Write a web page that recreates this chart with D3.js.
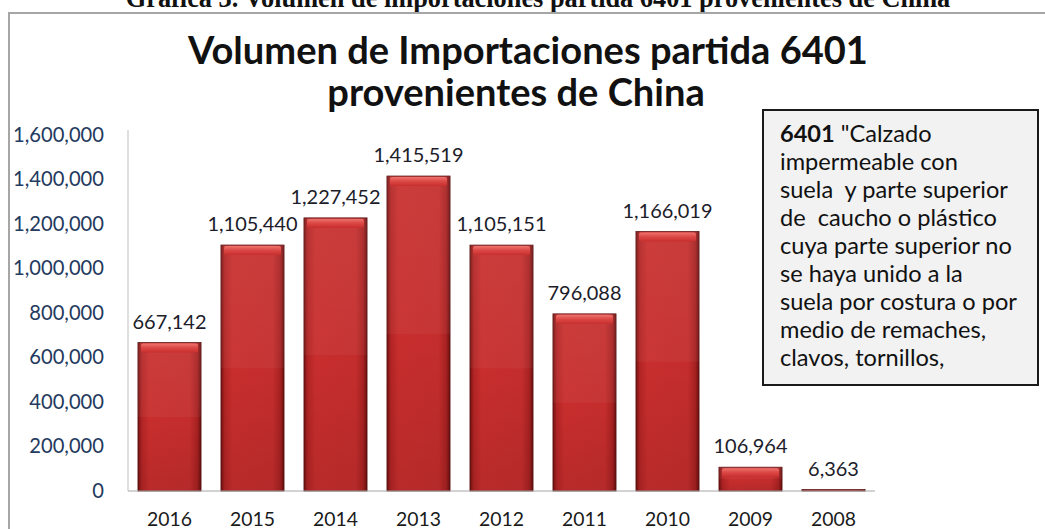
<!DOCTYPE html>
<html>
<head>
<meta charset="utf-8">
<script src="https://cdn.jsdelivr.net/npm/d3@7"></script>
<style>
  html, body { margin: 0; padding: 0; background: #fff; }
  svg { display: block; }
</style>
</head>
<body>
<svg id="chart" width="1045" height="529"></svg>
<script>
// Import volume of heading 6401 from China, by year
const years = ["2016", "2015", "2014", "2013", "2012", "2011", "2010", "2009", "2008"];
const volumes = [667142, 1105440, 1227452, 1415519, 1105151, 796088, 1166019, 106964, 6363];
const yTicks = [0, 200000, 400000, 600000, 800000, 1000000, 1200000, 1400000, 1600000];

const caption = "Gráfica 3. Volumen de importaciones partida 6401 provenientes de China";
const titleLines = ["Volumen de Importaciones partida 6401", "provenientes de China"];
const noteLines = [
  ["6401", " \"Calzado"],
  ["", "impermeable con"],
  ["", "suela  y parte superior"],
  ["", "de  caucho o plástico"],
  ["", "cuya parte superior no"],
  ["", "se haya unido a la"],
  ["", "suela por costura o por"],
  ["", "medio de remaches,"],
  ["", "clavos, tornillos,"]
];

const svg = d3.select("#chart");
const sans = "Lato, 'Open Sans', sans-serif";
const fmt = d3.format(",");

// scale a text element's font size so it spans the wanted width
function fitWidth(sel, width) {
  const node = sel.node();
  const fs = parseFloat(sel.attr("font-size"));
  const w = node.getComputedTextLength();
  sel.attr("font-size", (fs * width / w).toFixed(2));
  return fs * width / w;
}

// page caption, partly cut by the top edge
const cap = svg.append("text")
  .attr("x", 538).attr("y", 7)
  .attr("text-anchor", "middle")
  .attr("font-family", "'Liberation Serif', 'Times New Roman', serif")
  .attr("font-weight", "bold")
  .attr("font-size", 20)
  .attr("fill", "#111")
  .text(caption);
fitWidth(cap, 825);

// outer frame of the chart object
svg.append("path")
  .attr("d", "M9,535 V13 H1050")
  .attr("fill", "none")
  .attr("stroke", "#a6a6a6")
  .attr("stroke-width", 2);

// chart title
const t1 = svg.append("text")
  .attr("x", 528).attr("y", 64)
  .attr("text-anchor", "middle")
  .attr("font-family", sans).attr("font-weight", "bold")
  .attr("font-size", 30).attr("fill", "#111")
  .text(titleLines[0]);
const tfs = fitWidth(t1, 680);
svg.append("text")
  .attr("x", 516).attr("y", 106)
  .attr("text-anchor", "middle")
  .attr("font-family", sans).attr("font-weight", "bold")
  .attr("font-size", tfs).attr("fill", "#111")
  .text(titleLines[1]);

// plot area
const x = d3.scaleBand()
  .domain(years)
  .range([128, 875])
  .paddingInner(0.24)
  .paddingOuter(0.12);

const y = d3.scaleLinear()
  .domain([0, 1600000])
  .range([491, 135]);

// gradients for the bevelled bars
const defs = svg.append("defs");
const hGrad = defs.append("linearGradient").attr("id", "barH")
  .attr("x1", "0").attr("x2", "1").attr("y1", "0").attr("y2", "0");
[["0%", "#741212"], ["6%", "#b22424"], ["18%", "#c72e2d"], ["82%", "#c42d2d"], ["94%", "#a82121"], ["100%", "#6a1010"]]
  .forEach(([o, c]) => hGrad.append("stop").attr("offset", o).attr("stop-color", c));
const vGrad = defs.append("linearGradient").attr("id", "barV")
  .attr("x1", "0").attr("x2", "0").attr("y1", "0").attr("y2", "1");
[["0%", "#ffffff", 0.07], ["50%", "#ffffff", 0.04], ["50.5%", "#000000", 0.0], ["100%", "#000000", 0.08]]
  .forEach(([o, c, a]) => vGrad.append("stop").attr("offset", o).attr("stop-color", c).attr("stop-opacity", a));
const capGrad = defs.append("linearGradient").attr("id", "barCap")
  .attr("x1", "0").attr("x2", "0").attr("y1", "0").attr("y2", "1");
[["0%", "#ee736e"], ["45%", "#dc4946"], ["100%", "#c72e2d"]]
  .forEach(([o, c]) => capGrad.append("stop").attr("offset", o).attr("stop-color", c));

// y axis
const yAxis = svg.append("g")
  .attr("transform", "translate(128,0)")
  .call(d3.axisLeft(y).tickValues(yTicks).tickFormat(fmt).tickSize(0).tickPadding(24));
yAxis.select(".domain").remove();
yAxis.selectAll("text")
  .attr("font-family", sans).attr("font-size", 20).attr("fill", "#243a5e");
fitWidth(yAxis.selectAll(".tick").filter(d => d === 1600000).select("text"), 91);
const yfs = yAxis.selectAll(".tick").filter(d => d === 1600000).select("text").attr("font-size");
yAxis.selectAll("text").attr("font-size", yfs);

svg.append("line")
  .attr("x1", 128).attr("x2", 128).attr("y1", 130).attr("y2", 491)
  .attr("stroke", "#bfbfbf").attr("stroke-width", 1);

// bars
const bars = svg.append("g");
const bar = bars.selectAll("g").data(years.map((yr, i) => ({ yr, v: volumes[i] })))
  .join("g");
bar.append("rect")
  .attr("x", d => x(d.yr))
  .attr("y", d => y(d.v))
  .attr("width", x.bandwidth())
  .attr("height", d => y(0) - y(d.v))
  .attr("fill", "url(#barH)")
  .attr("stroke", "#5a0e0e").attr("stroke-width", 0.8);
bar.append("rect")
  .attr("x", d => x(d.yr))
  .attr("y", d => y(d.v))
  .attr("width", x.bandwidth())
  .attr("height", d => y(0) - y(d.v))
  .attr("fill", "url(#barV)");
bar.filter(d => y(0) - y(d.v) > 12).append("rect")
  .attr("x", d => x(d.yr) + 3)
  .attr("y", d => y(d.v) + 1)
  .attr("width", x.bandwidth() - 6)
  .attr("height", 9)
  .attr("rx", 2)
  .attr("fill", "url(#barCap)");

// baseline
svg.append("line")
  .attr("x1", 128).attr("x2", 875).attr("y1", 491).attr("y2", 491)
  .attr("stroke", "#a6a6a6").attr("stroke-width", 1);

// value labels
const vl = svg.append("g").selectAll("text")
  .data(years.map((yr, i) => ({ yr, v: volumes[i] })))
  .join("text")
  .attr("x", d => x(d.yr) + x.bandwidth() / 2)
  .attr("y", d => y(d.v) - 14)
  .attr("text-anchor", "middle")
  .attr("font-family", sans).attr("font-size", 20).attr("fill", "#1c1c2a")
  .text(d => fmt(d.v));
const ref = vl.filter(d => d.yr === "2013");
fitWidth(ref, 90);
vl.attr("font-size", ref.attr("font-size"));

// x axis labels
const xAxis = svg.append("g")
  .attr("transform", "translate(0,491)")
  .call(d3.axisBottom(x).tickSize(0).tickPadding(21));
xAxis.select(".domain").remove();
xAxis.selectAll("text")
  .attr("font-family", sans).attr("font-size", 20).attr("fill", "#1a1a1a");
const xr = xAxis.selectAll(".tick").filter(d => d === "2016").select("text");
fitWidth(xr, 45);
xAxis.selectAll("text").attr("font-size", xr.attr("font-size"));

// note box describing heading 6401
svg.append("rect")
  .attr("x", 763).attr("y", 110)
  .attr("width", 275).attr("height", 275)
  .attr("fill", "#f2f2f2")
  .attr("stroke", "#1a1a1a").attr("stroke-width", 2);
const note = svg.append("g").selectAll("text")
  .data(noteLines)
  .join("text")
  .attr("x", 780)
  .attr("y", (d, i) => 142 + i * 28)
  .attr("font-family", sans).attr("font-size", 20).attr("fill", "#111")
  .style("white-space", "pre");
note.append("tspan").attr("font-weight", "bold").text(d => d[0]);
note.append("tspan").text(d => d[1]);
const nref = note.filter((d, i) => i === 2);
fitWidth(nref, 228);
note.attr("font-size", nref.attr("font-size"));
</script>
</body>
</html>
